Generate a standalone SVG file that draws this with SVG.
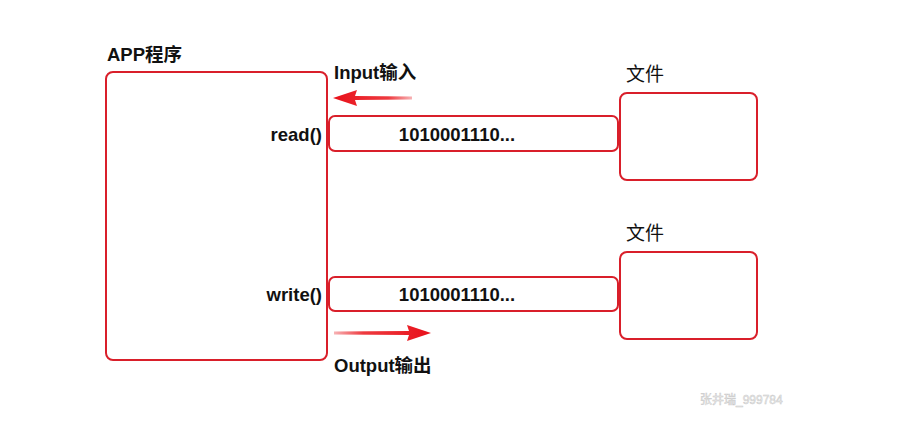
<svg xmlns="http://www.w3.org/2000/svg" width="920" height="421" viewBox="0 0 920 421">
<defs>
<linearGradient id="gIn" x1="0" y1="0" x2="1" y2="0">
<stop offset="0" stop-color="#e8101a"/><stop offset="0.7" stop-color="#ee3a3f"/><stop offset="1" stop-color="#f7b3b5"/>
</linearGradient>
<linearGradient id="gOut" x1="0" y1="0" x2="1" y2="0">
<stop offset="0" stop-color="#f7b3b5"/><stop offset="0.3" stop-color="#ee3a3f"/><stop offset="1" stop-color="#e8101a"/>
</linearGradient>
<style>
.box{fill:#fff;stroke:#d91f2a;stroke-width:2}
.t{font-family:"Liberation Sans","Noto Sans CJK SC",sans-serif;font-weight:bold;font-size:18.5px;fill:#111}
.c{font-family:"Noto Sans CJK SC","Liberation Sans",sans-serif;font-size:19px;fill:#111}
</style>
</defs>
<rect width="920" height="421" fill="#fff"/>
<g id="app">
<rect class="box" x="106" y="72" width="221" height="288" rx="7"/>
<text class="t" x="107" y="61" font-size="19.5">APP程序</text>
<text class="t" x="322" y="141" text-anchor="end">read()</text>
<text class="t" x="322" y="301" text-anchor="end">write()</text>
</g>
<g id="pipeIn">
<rect class="box" x="329" y="116" width="289" height="35" rx="6"/>
<text class="t" x="457" y="141" text-anchor="middle">1010001110...</text>
</g>
<g id="pipeOut">
<rect class="box" x="329" y="277" width="289" height="34" rx="6"/>
<text class="t" x="457" y="301" text-anchor="middle">1010001110...</text>
</g>
<g id="file1">
<rect class="box" x="620" y="93" width="137" height="87" rx="7"/>
<text class="c" x="626" y="81">文件</text>
</g>
<g id="file2">
<rect class="box" x="620" y="252" width="137" height="87" rx="7"/>
<text class="c" x="626" y="240">文件</text>
</g>
<g id="connectors">
<polygon points="333,98 357,90 355,96 412,96.5 412,99.5 355,100 357,106" fill="url(#gIn)"/>
<polygon points="431,333 407,325 409,331 334,331.5 334,334.5 409,335 407,341" fill="url(#gOut)"/>
</g>
<text class="t" x="334" y="79">Input输入</text>
<text class="t" x="334" y="372">Output输出</text>
<text x="700" y="404" font-family="Liberation Sans,Noto Sans CJK SC,sans-serif" font-size="12" fill="#f4f4f4" stroke="#c8c8c8" stroke-width="0.5">张井瑞_999784</text>
</svg>
